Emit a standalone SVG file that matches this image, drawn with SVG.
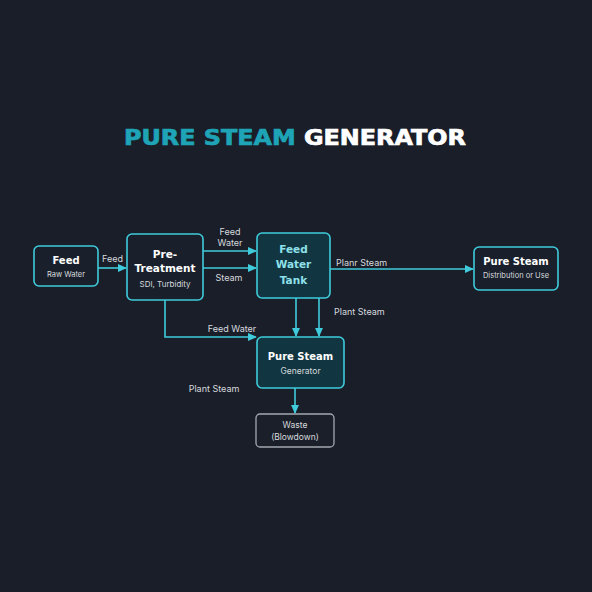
<svg xmlns="http://www.w3.org/2000/svg" width="592" height="592" viewBox="0 0 592 592">
<style>
.bx{fill:#1a202b;stroke:#3fcbdb;stroke-width:1.6}
.bxd{fill:#123641;stroke:#3fcbdb;stroke-width:1.6}
.bxg{fill:#1a1f2a;stroke:#a4a9b0;stroke-width:1.3}
.t{font-family:"DejaVu Sans",sans-serif;font-weight:bold;fill:#ffffff;text-anchor:middle}
.s{font-family:"Inter","Liberation Sans",sans-serif;fill:#d6dade;text-anchor:middle}
.l{font-family:"Inter","Liberation Sans",sans-serif;fill:#d6dade;font-size:9px}
.c{fill:none;stroke:#3fcbdb;stroke-width:1.6}
</style>
<defs>
<marker id="ah" viewBox="0 0 10 10" refX="9" refY="5" markerWidth="9" markerHeight="8" markerUnits="userSpaceOnUse" orient="auto" preserveAspectRatio="none"><path d="M0,0 L10,5 L0,10 z" fill="#3fcbdb"/></marker>
</defs>
<rect width="592" height="592" fill="#1a1e29"/>
<text x="295" y="145" font-family="DejaVu Sans,sans-serif" font-weight="bold" font-size="21" text-anchor="middle" textLength="342" lengthAdjust="spacingAndGlyphs" stroke-width="0.7"><tspan fill="#1ea4b6" stroke="#1ea4b6">PURE STEAM </tspan><tspan fill="#ffffff" stroke="#ffffff">GENERATOR</tspan></text>
<g id="connectors">
<line class="c" x1="98" y1="268" x2="126" y2="268" marker-end="url(#ah)"/>
<line class="c" x1="203" y1="251" x2="256" y2="251" marker-end="url(#ah)"/>
<line class="c" x1="203" y1="268" x2="256" y2="268" marker-end="url(#ah)"/>
<line class="c" x1="330" y1="269" x2="473" y2="269" marker-end="url(#ah)"/>
<line class="c" x1="296" y1="298" x2="296" y2="336" marker-end="url(#ah)"/>
<line class="c" x1="319" y1="298" x2="319" y2="336" marker-end="url(#ah)"/>
<polyline class="c" points="165,300 165,337 256,337" marker-end="url(#ah)"/>
<line class="c" x1="295" y1="388" x2="295" y2="413" marker-end="url(#ah)"/>
<text class="l" x="102" y="262">Feed</text>
<text class="l" x="230" y="235" text-anchor="middle">Feed</text>
<text class="l" x="230" y="246" text-anchor="middle">Water</text>
<text class="l" x="229" y="281" text-anchor="middle">Steam</text>
<text class="l" x="336" y="266">Planr Steam</text>
<text class="l" x="334" y="315">Plant Steam</text>
<text class="l" x="232" y="332" text-anchor="middle">Feed Water</text>
<text class="l" x="214" y="392" text-anchor="middle">Plant Steam</text>
</g>
<g id="feed">
<rect class="bx" x="34" y="246" width="64" height="40" rx="5"/>
<text class="t" x="66" y="264" font-size="10">Feed</text>
<text class="s" x="66" y="277" font-size="7.5">Raw Water</text>
</g>
<g id="pretreatment">
<rect class="bx" x="127" y="234" width="76" height="66" rx="5"/>
<text class="t" x="165" y="258" font-size="10.5">Pre-</text>
<text class="t" x="165" y="272" font-size="10.5">Treatment</text>
<text class="s" x="165" y="287" font-size="8">SDI, Turbidity</text>
</g>
<g id="tank">
<rect class="bxd" x="257" y="233" width="73" height="65" rx="5"/>
<text class="t" x="293.5" y="253" font-size="10.5" style="fill:#8ee0ea">Feed</text>
<text class="t" x="293.5" y="268" font-size="10.5" style="fill:#8ee0ea">Water</text>
<text class="t" x="293.5" y="284" font-size="10.5" style="fill:#8ee0ea">Tank</text>
</g>
<g id="distribution">
<rect class="bx" x="474" y="247" width="84" height="43" rx="5"/>
<text class="t" x="516" y="265" font-size="10">Pure Steam</text>
<text class="s" x="516" y="278" font-size="7.5">Distribution or Use</text>
</g>
<g id="generator">
<rect class="bxd" x="257" y="337" width="87" height="51" rx="5"/>
<text class="t" x="300.5" y="360" font-size="10">Pure Steam</text>
<text class="s" x="300.5" y="374" font-size="8.5">Generator</text>
</g>
<g id="waste">
<rect class="bxg" x="256" y="414" width="78" height="33" rx="4"/>
<text class="s" x="295" y="428" font-size="8.5">Waste</text>
<text class="s" x="295" y="440" font-size="8.5">(Blowdown)</text>
</g>
</svg>
